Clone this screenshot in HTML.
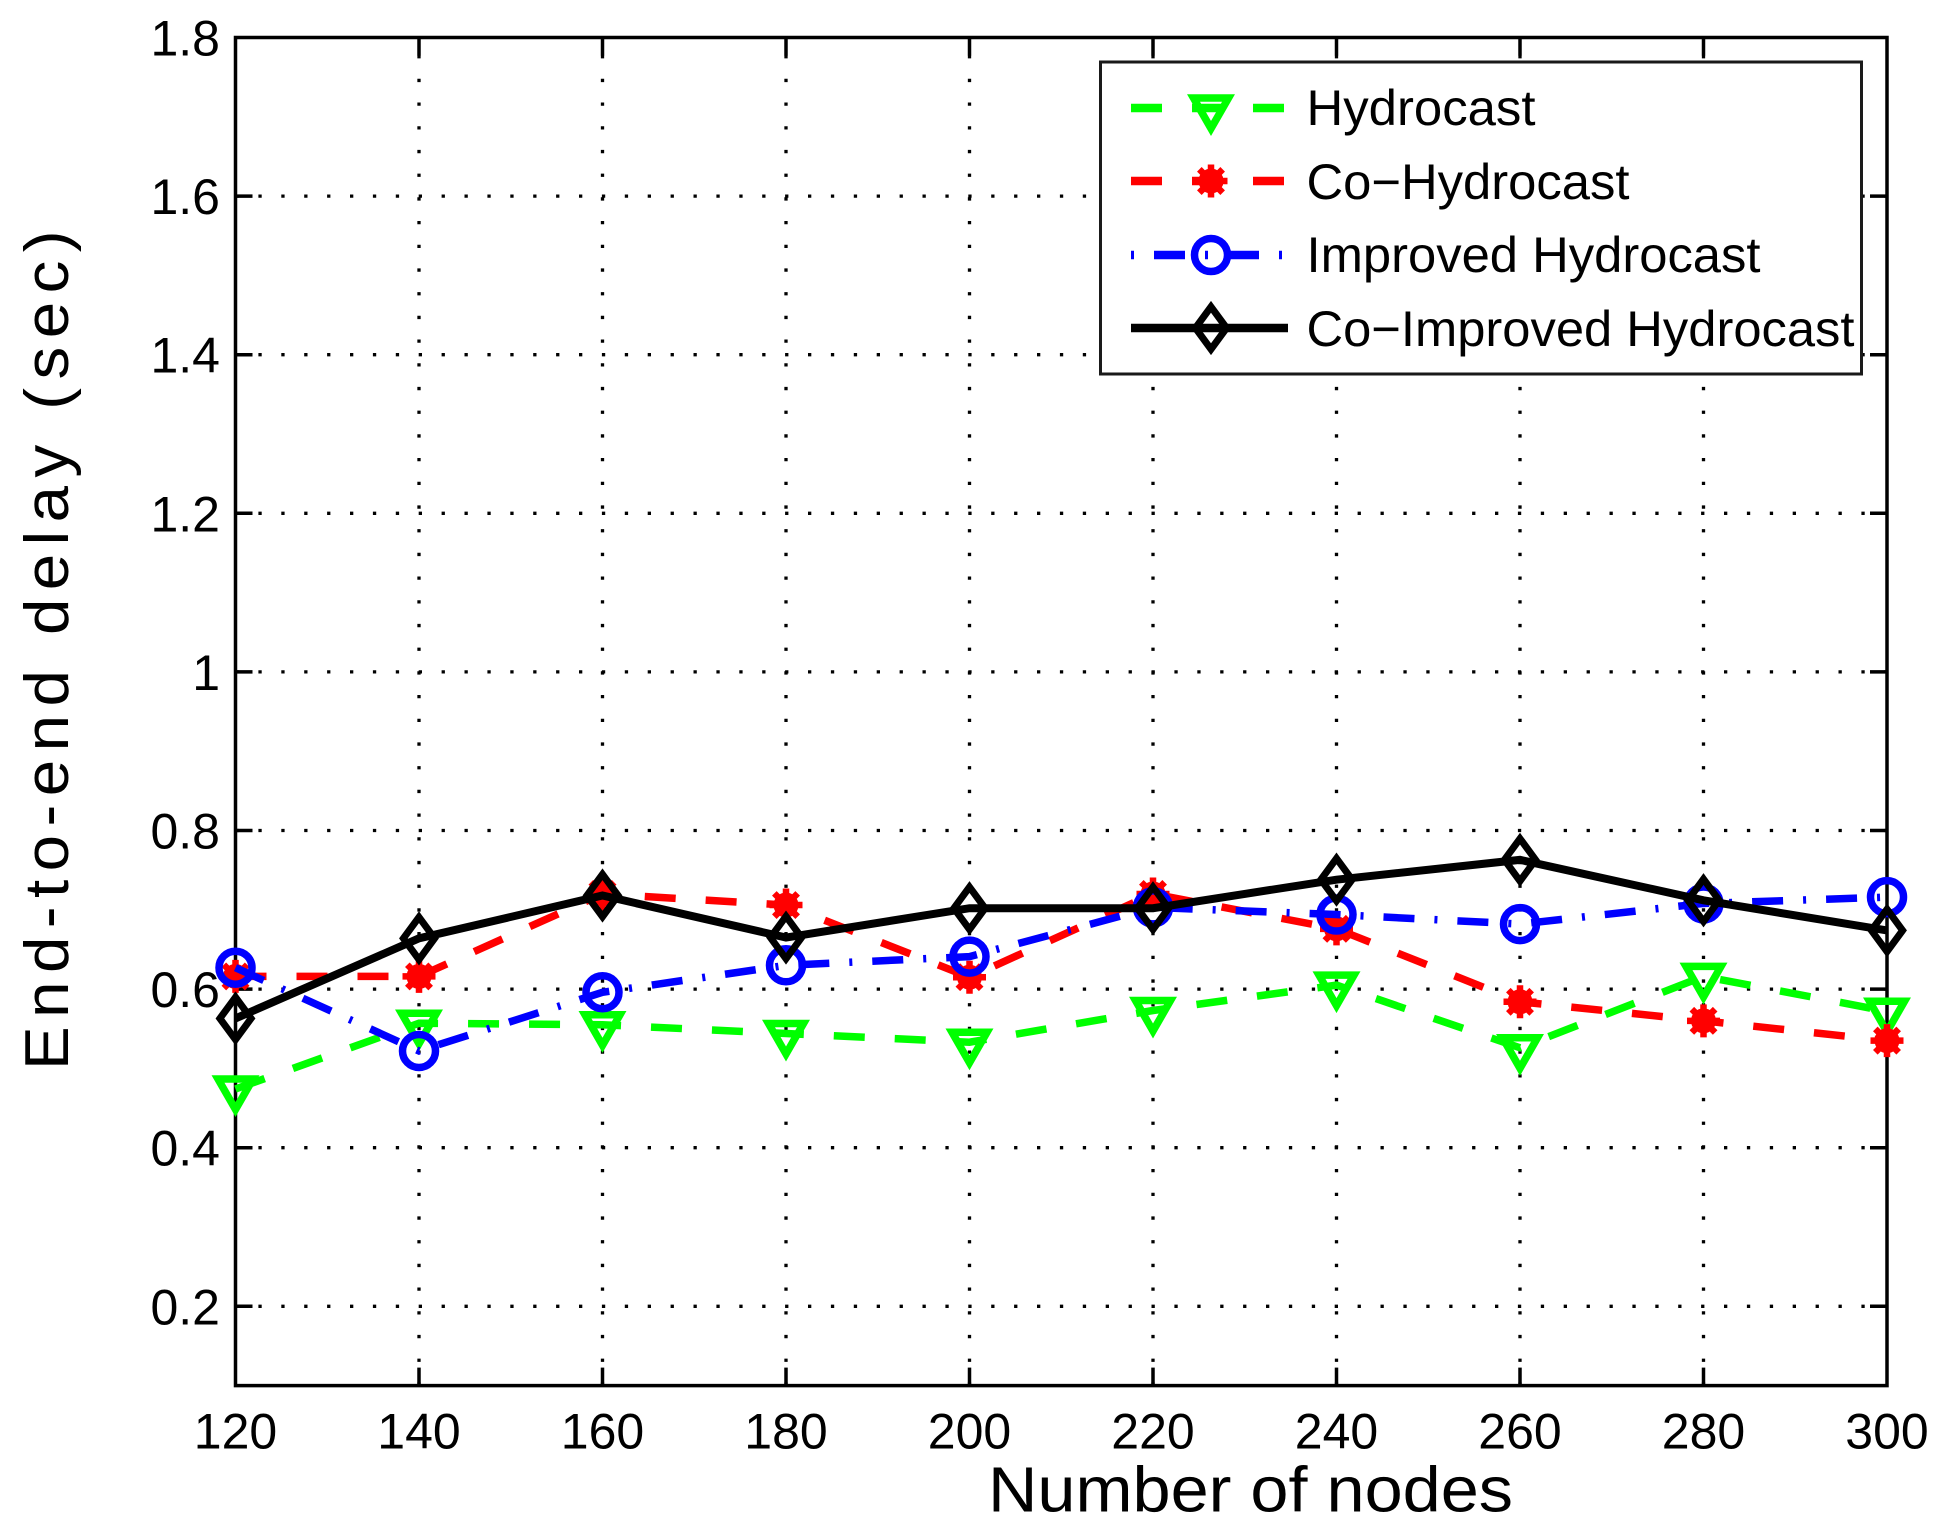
<!DOCTYPE html>
<html>
<head>
<meta charset="utf-8">
<title>End-to-end delay chart</title>
<style>
html,body{margin:0;padding:0;background:#fff;}
svg{display:block;}
text{font-family:"Liberation Sans",Arial,sans-serif;fill:#000;}
</style>
</head>
<body>
<svg id="chart" xmlns="http://www.w3.org/2000/svg" width="1945" height="1530" viewBox="0 0 1945 1530">
<rect x="0" y="0" width="1945" height="1530" fill="#fff"/>
<g id="grid"></g>
<g id="axes"></g>
<g id="series"></g>
<g id="ticklabels" font-size="50"></g>
<text x="988" y="1511.5" font-size="64" textLength="525" lengthAdjust="spacingAndGlyphs">Number of nodes</text>
<text transform="translate(68,1070) rotate(-90)" x="0" y="0" font-size="62" letter-spacing="8" textLength="848" lengthAdjust="spacingAndGlyphs">End-to-end delay (sec)</text>
<g id="legend">
<rect x="1100.5" y="62" width="761" height="312" fill="#fff" stroke="#1a1a1a" stroke-width="3"/>
<text x="1306.5" y="125" font-size="50" textLength="229" lengthAdjust="spacingAndGlyphs">Hydrocast</text>
<text x="1306.5" y="199" font-size="50" textLength="323" lengthAdjust="spacingAndGlyphs">Co−Hydrocast</text>
<text x="1306.5" y="272" font-size="50" textLength="454" lengthAdjust="spacingAndGlyphs">Improved Hydrocast</text>
<text x="1306.5" y="346" font-size="50" textLength="548" lengthAdjust="spacingAndGlyphs">Co−Improved Hydrocast</text>
</g>
</svg>
<script>
const categories = [120,140,160,180,200,220,240,260,280,300];
const hydrocast = [0.474,0.557,0.555,0.544,0.533,0.573,0.605,0.526,0.616,0.572];
const coHydrocast = [0.616,0.616,0.72,0.706,0.615,0.72,0.676,0.584,0.56,0.535];
const improvedHydrocast = [0.627,0.522,0.596,0.63,0.641,0.703,0.694,0.682,0.708,0.716];
const coImprovedHydrocast = [0.563,0.664,0.718,0.665,0.702,0.702,0.738,0.763,0.712,0.674];
const yTicks = [0.2,0.4,0.6,0.8,1,1.2,1.4,1.6,1.8];
const yTickLabels = ['0.2','0.4','0.6','0.8','1','1.2','1.4','1.6','1.8'];

const NS = 'http://www.w3.org/2000/svg';
const L = 235.5, R = 1887, T = 37.5, B = 1385.6;
const yMin = 0.1, yMax = 1.8;
function xAxis(n){ return L + (n - categories[0]) * (R - L) / (categories[categories.length-1] - categories[0]); }
function yAxis(v){ return B - (v - yMin) * (B - T) / (yMax - yMin); }
function mk(parent, tag, attrs){
  const el = document.createElementNS(NS, tag);
  for (const k in attrs) el.setAttribute(k, attrs[k]);
  parent.appendChild(el);
  return el;
}
const grid = document.getElementById('grid');
const axes = document.getElementById('axes');
const labels = document.getElementById('ticklabels');
const seriesLayer = document.getElementById('series');
const legend = document.getElementById('legend');

categories.forEach(function(c){
  const x = xAxis(c);
  if (c !== categories[0] && c !== categories[categories.length-1]) {
    const g = mk(grid, 'line', {x1:x, y1:B, x2:x, y2:T, stroke:'#000', 'stroke-width':3.3, 'stroke-dasharray':'3.3 20.4'});
    
    
    const t1 = mk(axes, 'line', {x1:x, y1:B, x2:x, y2:B-18, stroke:'#000', 'stroke-width':3.5});
    
    
    const t2 = mk(axes, 'line', {x1:x, y1:T, x2:x, y2:T+18, stroke:'#000', 'stroke-width':3.5});
    
    
  }
  const lab = mk(labels, 'text', {x:x, y:1448.5, 'text-anchor':'middle'});
  
  
  lab.textContent = String(c);
});
yTicks.forEach(function(v, i){
  const y = yAxis(v);
  if (v !== yMax) {
    const g = mk(grid, 'line', {x1:L, y1:y, x2:R, y2:y, stroke:'#000', 'stroke-width':3.3, 'stroke-dasharray':'3.3 19.6'});
    
    
    const t1 = mk(axes, 'line', {x1:L, y1:y, x2:L+17, y2:y, stroke:'#000', 'stroke-width':3.5});
    
    
    const t2 = mk(axes, 'line', {x1:R, y1:y, x2:R-17, y2:y, stroke:'#000', 'stroke-width':3.5});
    
    
  }
  const lab = mk(labels, 'text', {x:220, y:y+18, 'text-anchor':'end'});
  
  
  lab.textContent = yTickLabels[i];
});
const frame = mk(axes, 'rect', {x:L, y:T, width:R-L, height:B-T, fill:'none', stroke:'#000', 'stroke-width':3.5});



function triangle(p, cx, cy, color){
  return mk(p, 'path', {d:'M'+(cx-17.5)+' '+(cy-10)+'L'+(cx+17.5)+' '+(cy-10)+'L'+cx+' '+(cy+20.5)+'Z', fill:'none', stroke:color, 'stroke-width':7.5, 'stroke-miterlimit':10});
}
function star(p, cx, cy, color){
  const g = mk(p, 'g', {});
  mk(g, 'circle', {cx:cx, cy:cy, r:12.5, fill:color});
  [0,45,90,135].forEach(function(a){
    const r = 16.5, dx = r*Math.cos(a*Math.PI/180), dy = r*Math.sin(a*Math.PI/180);
    mk(g, 'line', {x1:cx-dx, y1:cy-dy, x2:cx+dx, y2:cy+dy, stroke:color, 'stroke-width':6.5});
  });
  return g;
}
function circle(p, cx, cy, color){
  return mk(p, 'circle', {cx:cx, cy:cy, r:16.5, fill:'none', stroke:color, 'stroke-width':7.5});
}
function diamond(p, cx, cy, color){
  return mk(p, 'path', {d:'M'+cx+' '+(cy-21.2)+'L'+(cx+15.6)+' '+cy+'L'+cx+' '+(cy+21.2)+'L'+(cx-15.6)+' '+cy+'Z', fill:'none', stroke:color, 'stroke-width':7, 'stroke-miterlimit':10});
}

const seriesStyles = [
  {slug:'hydrocast', color:'#00ff00', dash:'31 30', width:7.5, marker:triangle, ly:108},
  {slug:'co-hydrocast', color:'#ff0000', dash:'31 30', width:7.5, marker:star, ly:181},
  {slug:'improved-hydrocast', color:'#0000ff', dash:'31 20 3 20', width:7.5, marker:circle, ly:255},
  {slug:'co-improved-hydrocast', color:'#000000', dash:'none', width:8, marker:diamond, ly:328}
];
const seriesValues = [hydrocast, coHydrocast, improvedHydrocast, coImprovedHydrocast];

seriesStyles.forEach(function(s, i){
  const vals = seriesValues[i];
  const g = mk(seriesLayer, 'g', {});
  
  
  const pts = vals.map(function(v, j){ return xAxis(categories[j]) + ',' + yAxis(v); }).join(' ');
  const line = mk(g, 'polyline', {points:pts, fill:'none', stroke:s.color, 'stroke-width':s.width, 'stroke-dasharray':s.dash, 'stroke-linejoin':'miter'});
  
  
  vals.forEach(function(v, j){
    const m = s.marker(g, xAxis(categories[j]), yAxis(v), s.color);
    
    
  });
  const ll = mk(legend, 'line', {x1:1131, y1:s.ly, x2:1288, y2:s.ly, stroke:s.color, 'stroke-width':8.5, 'stroke-dasharray': s.slug === 'improved-hydrocast' ? '3 20 31 20' : s.dash});
  
  
  const lm = s.marker(legend, 1211, s.ly, s.color);
  
  
});
</script>
</body>
</html>
